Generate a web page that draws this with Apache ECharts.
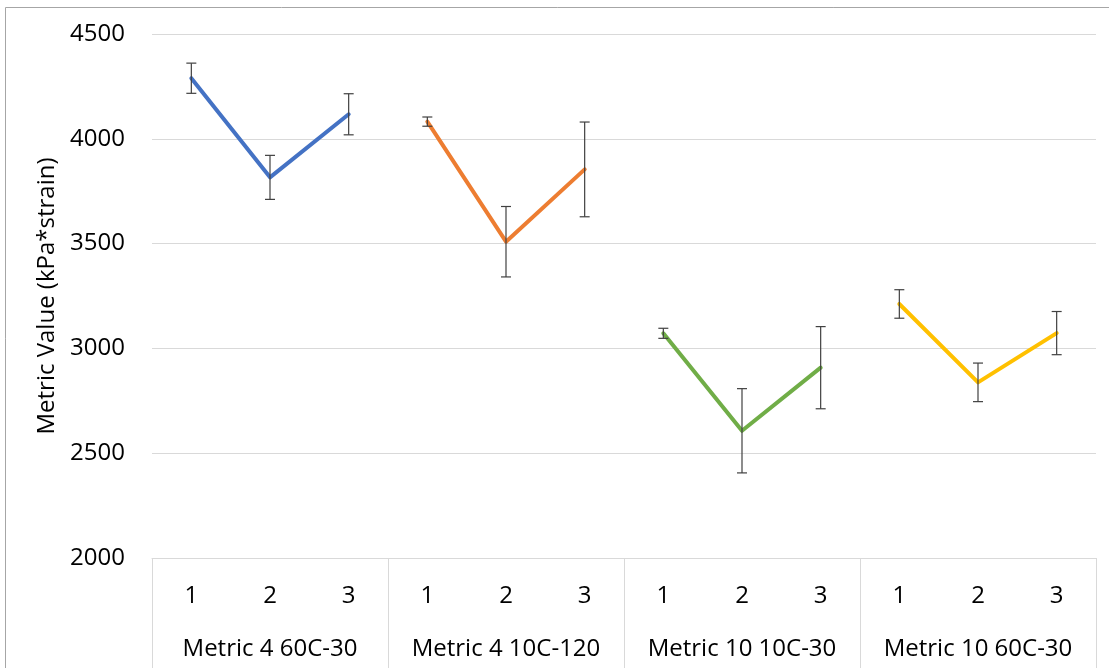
<!DOCTYPE html>
<html>
<head>
<meta charset="utf-8">
<script src="https://cdn.jsdelivr.net/npm/echarts@6/dist/echarts.min.js"></script>
<style>
  html, body { margin: 0; padding: 0; background: #fff; }
  #chart { width: 1109px; height: 668px; }
</style>
</head>
<body>
<div id="chart"></div>
<script>
// Test groups and the run number within each group
const groups = ['Metric 4 60C-30', 'Metric 4 10C-120', 'Metric 10 10C-30', 'Metric 10 60C-30'];
const runs = ['1', '2', '3'];

// Mean metric value for runs 1-3 of each group
const metric4_60C30 = [4289, 3816, 4117];
const metric4_10C120 = [4082, 3509, 3854];
const metric10_10C30 = [3072, 2607, 2908];
const metric10_60C30 = [3212, 2838, 3073];

// Error bar half-widths (kPa*strain)
const err4_60C30 = [72, 105, 98];
const err4_10C120 = [22, 168, 226];
const err10_10C30 = [24, 201, 196];
const err10_60C30 = [68, 92, 103];

const seriesColors = ['#4472C4', '#ED7D31', '#70AD47', '#FFC000'];
const yTicks = { min: 2000, max: 4500, interval: 500 };

const means = [metric4_60C30, metric4_10C120, metric10_10C30, metric10_60C30];
const errs = [err4_60C30, err4_10C120, err10_10C30, err10_60C30];

// 12 slots on the lower axis: runs repeated for each group
const slots = [];
groups.forEach(() => runs.forEach(r => slots.push(r)));

const FONT = 'Open Sans';
const FS = 24;

const series = [];
means.forEach((vals, gi) => {
  const data = slots.map(() => null);
  vals.forEach((v, ri) => { data[gi * runs.length + ri] = v; });
  series.push({
    type: 'line',
    name: groups[gi],
    xAxisIndex: 0,
    data: data,
    symbol: 'none',
    connectNulls: false,
    lineStyle: { color: seriesColors[gi], width: 4, cap: 'round', join: 'round' },
    z: 3
  });
});

// Error bars: [slotIndex, low, high]
const errData = [];
means.forEach((vals, gi) => {
  vals.forEach((v, ri) => {
    errData.push([gi * runs.length + ri, v - errs[gi][ri], v + errs[gi][ri]]);
  });
});

series.push({
  type: 'custom',
  xAxisIndex: 0,
  data: errData,
  z: 4,
  encode: { x: 0, y: [1, 2] },
  renderItem: function (params, api) {
    const x = api.value(0);
    const lo = api.coord([x, api.value(1)]);
    const hi = api.coord([x, api.value(2)]);
    const half = 5;
    const style = { stroke: '#404040', lineWidth: 1.2, fill: null };
    return {
      type: 'group',
      children: [
        { type: 'line', shape: { x1: lo[0], y1: lo[1], x2: hi[0], y2: hi[1] }, style: style },
        { type: 'line', shape: { x1: lo[0] - half, y1: lo[1], x2: lo[0] + half, y2: lo[1] }, style: style },
        { type: 'line', shape: { x1: hi[0] - half, y1: hi[1], x2: hi[0] + half, y2: hi[1] }, style: style }
      ]
    };
  }
});

const chart = echarts.init(document.getElementById('chart'), null, { renderer: 'canvas' });
chart.setOption({
  backgroundColor: '#fff',
  animation: false,
  graphic: [{
    type: 'rect',
    shape: { x: 5.5, y: 7.5, width: 1200, height: 800 },
    style: { fill: null, stroke: '#a6a6a6', lineWidth: 1 },
    silent: true,
    z: -1
  }],
  grid: { left: 152, right: 13, top: 34, bottom: 110, containLabel: false },
  xAxis: [
    {
      type: 'category',
      data: slots,
      position: 'bottom',
      boundaryGap: true,
      axisLine: { show: true, lineStyle: { color: '#d9d9d9', width: 1 } },
      axisTick: { show: false },
      axisLabel: { color: '#000', fontSize: FS, fontFamily: FONT, margin: 26, interval: 0 },
      splitLine: { show: false }
    },
    {
      type: 'category',
      data: groups,
      position: 'bottom',
      boundaryGap: true,
      axisLine: { show: false },
      axisTick: { show: true, length: 112, inside: false, lineStyle: { color: '#d9d9d9', width: 1 } },
      axisLabel: { color: '#000', fontSize: FS, fontFamily: FONT, margin: 79, interval: 0 },
      splitLine: { show: false }
    }
  ],
  yAxis: {
    type: 'value',
    min: yTicks.min,
    max: yTicks.max,
    interval: yTicks.interval,
    name: 'Metric Value (kPa*strain)',
    nameLocation: 'middle',
    nameGap: 90,
    nameRotate: 90,
    nameTextStyle: { color: '#000', fontSize: FS, fontFamily: FONT },
    axisLine: { show: false },
    axisTick: { show: false },
    axisLabel: {
      color: '#000', fontSize: FS, fontFamily: FONT, margin: 27,
      formatter: v => String(v)
    },
    splitLine: { show: true, lineStyle: { color: '#d9d9d9', width: 1 } }
  },
  series: series
});
</script>
</body>
</html>
